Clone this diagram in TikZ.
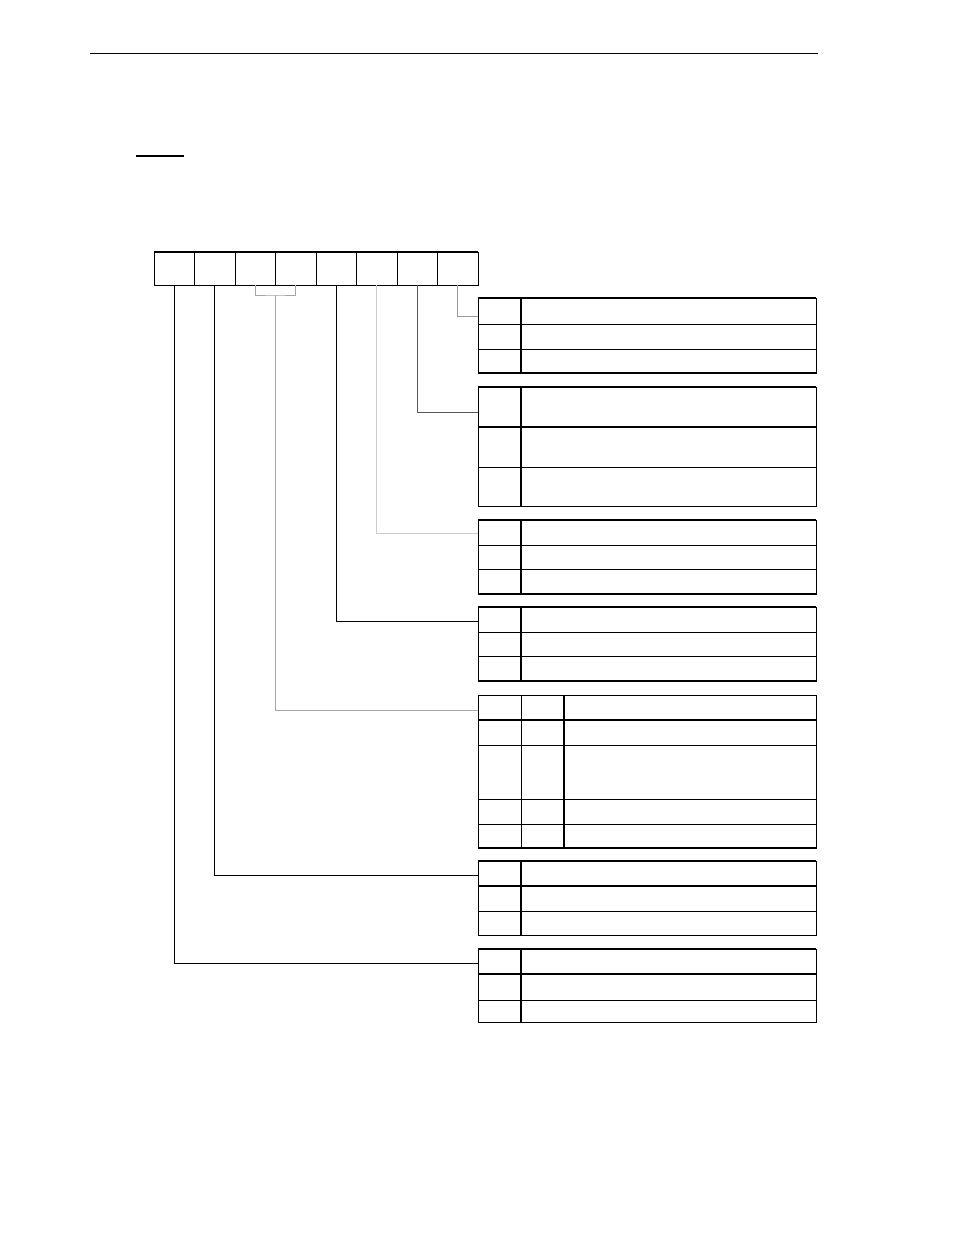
\documentclass[tikz,border=0pt]{standalone}
\usepackage{tikz}
\usetikzlibrary{calc, positioning}

\tikzset{
  reg/.style={draw, line width=1pt, minimum width=40.5pt, minimum height=33pt, inner sep=0pt, outer sep=0pt, anchor=north west},
  row/.style={draw, line width=1pt, minimum width=338pt, inner sep=0pt, outer sep=0pt, anchor=north west},
  heavy/.style={line width=2pt},
  lead/.style={line width=1pt},
}

\begin{document}
\begin{tikzpicture}[x=1pt, y=-1pt]
  \useasboundingbox (0,0) rectangle (954,1235);

  % page rule and heading rule
  \draw[line width=1pt] (90,53) -- (818,53);
  \draw[line width=1.3pt] (136,156) -- (184,156);

  % register bits, b7 on the left
  \foreach \i in {0,...,7}
    \node[reg] (b\i) at ({154+40.5*(7-\i)},252) {};
  \draw[line width=1.6pt] (b7.north west) -- (b0.north east);

  % bit 0
  \node[row, minimum height=26pt] (t0a) at (478,298) {};
  \node[row, minimum height=25pt] (t0b) at (t0a.south west) {};
  \node[row, minimum height=24pt] (t0c) at (t0b.south west) {};
  \draw[heavy] ([xshift=43pt]t0a.north west) -- ([xshift=43pt]t0c.south west);
  \draw[line width=1.6pt] (t0a.north west) -- (t0a.north east);
  \draw[heavy] (t0c.south west) -- (t0c.south east);

  % bit 1
  \node[row, minimum height=40pt] (t1a) at (478,387) {};
  \node[row, minimum height=40pt] (t1b) at (t1a.south west) {};
  \node[row, minimum height=39pt] (t1c) at (t1b.south west) {};
  \draw[heavy] ([xshift=43pt]t1a.north west) -- ([xshift=43pt]t1c.south west);
  \draw[line width=1.6pt] (t1a.north west) -- (t1a.north east);
  \draw[heavy] (t1a.south west) -- (t1a.south east);

  % bit 2
  \node[row, minimum height=25pt] (t2a) at (478,520) {};
  \node[row, minimum height=24.5pt] (t2b) at (t2a.south west) {};
  \node[row, minimum height=24.5pt] (t2c) at (t2b.south west) {};
  \draw[heavy] ([xshift=43pt]t2a.north west) -- ([xshift=43pt]t2c.south west);
  \draw[line width=1.6pt] (t2a.north west) -- (t2a.north east);
  \draw[heavy] (t2c.south west) -- (t2c.south east);

  % bit 3
  \node[row, minimum height=25pt] (t3a) at (478,607) {};
  \node[row, minimum height=24.5pt] (t3b) at (t3a.south west) {};
  \node[row, minimum height=24.5pt] (t3c) at (t3b.south west) {};
  \draw[heavy] ([xshift=43pt]t3a.north west) -- ([xshift=43pt]t3c.south west);
  \draw[line width=1.6pt] (t3a.north west) -- (t3a.north east);
  \draw[heavy] (t3c.south west) -- (t3c.south east);

  % bits 5 and 4
  \node[row, minimum height=25pt] (t4a) at (478,695) {};
  \node[row, minimum height=25pt] (t4b) at (t4a.south west) {};
  \node[row, minimum height=54pt] (t4c) at (t4b.south west) {};
  \node[row, minimum height=25pt] (t4d) at (t4c.south west) {};
  \node[row, minimum height=24pt] (t4e) at (t4d.south west) {};
  \draw[lead] ([xshift=43pt]t4a.north west) -- ([xshift=43pt]t4e.south west);
  \draw[heavy] ([xshift=85.5pt]t4a.north west) -- ([xshift=85.5pt]t4e.south west);
  \draw[heavy] (t4a.south west) -- (t4a.south east);
  \draw[heavy] (t4e.south west) -- (t4e.south east);

  % bit 6
  \node[row, minimum height=25pt] (t5a) at (478,861) {};
  \node[row, minimum height=25pt] (t5b) at (t5a.south west) {};
  \node[row, minimum height=24pt] (t5c) at (t5b.south west) {};
  \draw[heavy] ([xshift=43pt]t5a.north west) -- ([xshift=43pt]t5c.south west);
  \draw[line width=1.6pt] (t5a.north west) -- (t5a.north east);
  \draw[heavy] (t5a.south west) -- (t5a.south east);

  % bit 7
  \node[row, minimum height=25pt] (t6a) at (478,949) {};
  \node[row, minimum height=26pt] (t6b) at (t6a.south west) {};
  \node[row, minimum height=22pt] (t6c) at (t6b.south west) {};
  \draw[heavy] ([xshift=43pt]t6a.north west) -- ([xshift=43pt]t6c.south west);
  \draw[line width=1.6pt] (t6a.north west) -- (t6a.north east);
  \draw[heavy] (t6a.south west) -- (t6a.south east);

  % leads from the bits to their tables
  \draw[lead, black!40] (b0.south) |- ([yshift=-5pt]t0a.west);
  \draw[lead, black!65] (b1.south) |- ([yshift=-5pt]t1a.west);
  \draw[lead, black!20] (b2.south) |- ([yshift=-1pt]t2a.west);
  \draw[lead] (b3.south) |- ([yshift=-1.5pt]t3a.west);
  \coordinate (mid54) at ($(b5.south)!0.5!(b4.south)+(0,10)$);
  \draw[lead, black!35] (b5.south) |- (mid54) -| (b4.south);
  \draw[lead, black!35] (mid54) |- ([yshift=-2.5pt]t4a.west);
  \draw[lead] (b6.south) |- ([yshift=-1.5pt]t5a.west);
  \draw[lead] (b7.south) |- ([yshift=-1.5pt]t6a.west);
\end{tikzpicture}
\end{document}
